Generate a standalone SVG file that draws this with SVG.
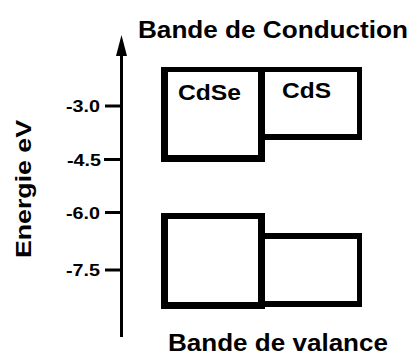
<svg xmlns="http://www.w3.org/2000/svg" width="413" height="356" viewBox="0 0 413 356">
<style>
.t{font-family:"Liberation Sans",Arial,sans-serif;font-weight:bold;fill:#000}
.lbl{font-size:24px}
.box{font-size:22px}
.tick{font-size:17px;text-anchor:end}
.ax{stroke:#000;stroke-width:3;fill:none}
</style>
<rect width="413" height="356" fill="#fff"/>
<g id="axis">
<line class="ax" x1="121.5" y1="50" x2="121.5" y2="337"/>
<polygon points="121.5,35 116,56 127,56" fill="#000"/>
<line class="ax" x1="105" y1="106" x2="121.5" y2="106"/>
<line class="ax" x1="104" y1="159.5" x2="121.5" y2="159.5"/>
<line class="ax" x1="105" y1="212.5" x2="121.5" y2="212.5"/>
<line class="ax" x1="105" y1="270" x2="121.5" y2="270"/>
<text class="t tick" x="100" y="112" textLength="34" lengthAdjust="spacingAndGlyphs">-3.0</text>
<text class="t tick" x="101" y="165.5" textLength="34" lengthAdjust="spacingAndGlyphs">-4.5</text>
<text class="t tick" x="100" y="219" textLength="34" lengthAdjust="spacingAndGlyphs">-6.0</text>
<text class="t tick" x="100" y="276" textLength="34" lengthAdjust="spacingAndGlyphs">-7.5</text>
<text class="t" font-size="22" transform="translate(31,258) rotate(-90)" textLength="138" lengthAdjust="spacingAndGlyphs">Energie eV</text>
</g>
<g id="conduction">
<path d="M161,67 H362 V140 H265 V162 H161 Z M168,72 V155 H258 V72 Z M265,72 V134 H357 V72 Z" fill="#000" fill-rule="evenodd"/>
<text class="t box" x="178" y="100" textLength="63" lengthAdjust="spacingAndGlyphs">CdSe</text>
<text class="t box" x="282" y="98" textLength="49" lengthAdjust="spacingAndGlyphs">CdS</text>
</g>
<g id="valence">
<path d="M161,213 H265 V233 H362 V307 H265 V309 H161 Z M168,219 V302 H258 V219 Z M265,239 V301 H357 V239 Z" fill="#000" fill-rule="evenodd"/>
</g>
<g id="labels">
<text class="t lbl" x="138" y="38" textLength="270" lengthAdjust="spacingAndGlyphs">Bande de Conduction</text>
<text class="t lbl" x="168" y="351" font-size="23" textLength="220" lengthAdjust="spacingAndGlyphs">Bande de valance</text>
</g>
</svg>
